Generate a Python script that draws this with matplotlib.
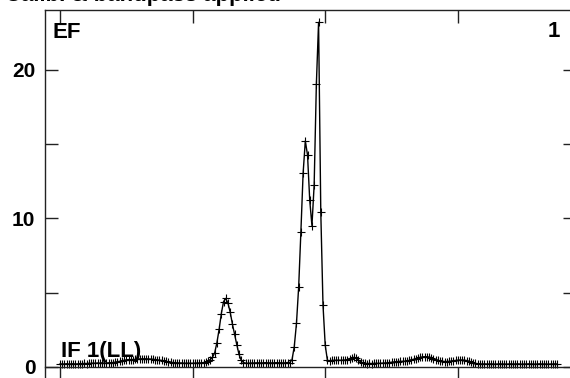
import matplotlib
matplotlib.use("Agg")
import matplotlib.pyplot as plt

plt.rcParams['font.family'] = ['Liberation Sans', 'DejaVu Sans']

# ---- data (values per channel) ----
amplitude = [
    # c0-19
    0.20, 0.21, 0.20, 0.22, 0.20, 0.21, 0.22, 0.20, 0.21, 0.23,
    0.22, 0.24, 0.23, 0.25, 0.24, 0.26, 0.25, 0.27, 0.26, 0.28,
    # c20-25
    0.26, 0.27, 0.28, 0.29, 0.30, 0.32,
    # c26-35
    0.35, 0.38, 0.42, 0.45, 0.48, 0.50, 0.50, 0.50, 0.51, 0.52,
    # c36-45
    0.54, 0.55, 0.55, 0.55, 0.54, 0.53, 0.52, 0.50, 0.48, 0.46,
    # c46-55
    0.44, 0.41, 0.38, 0.35, 0.32, 0.30, 0.29, 0.28, 0.27, 0.27,
    # c56-67
    0.26, 0.25, 0.26, 0.25, 0.25, 0.26, 0.27, 0.27, 0.28, 0.30, 0.34, 0.40,
    # c68-83 small line
    0.50, 0.65, 0.96, 1.64, 2.54, 3.60, 4.40, 4.62, 4.30, 3.70,
    2.90, 2.20, 1.50, 0.85, 0.45, 0.30,
    # c84-103
    0.26, 0.25, 0.26, 0.27, 0.27, 0.28, 0.28, 0.27, 0.28, 0.29,
    0.28, 0.28, 0.27, 0.28, 0.29, 0.28, 0.28, 0.27, 0.28, 0.30,
    # c104-121 main line
    0.30, 0.50, 1.37, 2.94, 5.41, 9.11, 13.04, 15.22, 14.28, 11.23,
    9.52, 12.26, 19.04, 23.21, 10.46, 4.18, 1.48, 0.45,
    # c122-137
    0.42, 0.44, 0.45, 0.45, 0.46, 0.45, 0.46, 0.47, 0.50, 0.56,
    0.62, 0.65, 0.60, 0.48, 0.35, 0.28,
    # c138-149
    0.24, 0.23, 0.24, 0.23, 0.24, 0.25, 0.24, 0.25, 0.26, 0.27, 0.28, 0.30,
    # c150-175
    0.32, 0.34, 0.36, 0.37, 0.38, 0.38, 0.39, 0.41, 0.44, 0.48,
    0.52, 0.57, 0.61, 0.65, 0.68, 0.69, 0.69, 0.67, 0.63, 0.57,
    0.50, 0.45, 0.41, 0.38, 0.37, 0.37,
    # c176-189
    0.38, 0.40, 0.42, 0.44, 0.46, 0.47, 0.47, 0.46, 0.43, 0.38,
    0.32, 0.27, 0.24, 0.22,
    # c190-225
    0.21, 0.20, 0.21, 0.20, 0.20, 0.21, 0.20, 0.19, 0.20, 0.21,
    0.20, 0.20, 0.19, 0.20, 0.21, 0.20, 0.20, 0.21, 0.20, 0.19,
    0.20, 0.20, 0.21, 0.20, 0.20, 0.19, 0.20, 0.21, 0.20, 0.20,
    0.20, 0.19, 0.20, 0.20, 0.21, 0.20,
]
channels = list(range(len(amplitude)))
xticks = [0, 60, 120, 180]
yticks = [0, 5, 10, 15, 20]
ytick_labels = ['0', '', '10', '', '20']
title_text = "Calib. & bandpass applied"
panel_label = "EF"
panel_number = "1"
if_label = "IF 1(LL)"

W, H = 570, 378
fig = plt.figure(figsize=(W / 100, H / 100), dpi=100)
left_px, right_px, top_px, bottom_px = 45, 570, 10, 378
ax = fig.add_axes([left_px / W, 1 - bottom_px / H,
                   (right_px - left_px) / W, (bottom_px - top_px) / H])

ax.plot(channels, amplitude, color='black', lw=1.0, marker='+',
        markersize=5.5, markeredgewidth=0.8, markeredgecolor='black',
        clip_on=True)

ax.set_xlim(-6.79, 230.77)
ax.set_ylim(-0.741, 24.04)

ax.spines['bottom'].set_position(('data', 0))
ax.spines['right'].set_visible(False)
for s in ax.spines.values():
    s.set_color('#222222')
    s.set_linewidth(1.0)

ax.set_xticks(xticks)
ax.set_xticklabels([])
ax.tick_params(axis='x', which='both', direction='out', length=7.8, width=1,
               color='#222222', top=False, bottom=True)
secx = ax.secondary_xaxis('top')
secx.set_xticks(xticks)
secx.set_xticklabels([])
secx.tick_params(direction='in', length=9, width=1, color='#222222')
secx.spines['top'].set_visible(False)

ax.set_yticks(yticks)
ax.set_yticklabels(ytick_labels, fontsize=15, fontweight='bold')
ax.tick_params(axis='y', which='both', direction='in', length=9, width=1,
               color='#222222', left=True, right=False, pad=7)
# right-hand inward ticks (the right frame edge lies just beyond the image)
secy = ax.secondary_yaxis('right')
secy.set_yticks(yticks)
secy.set_yticklabels([])
secy.tick_params(direction='in', length=5, width=1, color='#222222')
secy.spines['right'].set_visible(False)

fig.text(52 / W, 1 - 37.5 / H, panel_label, fontsize=16, fontweight='bold',
         va='baseline', ha='left')
fig.text(560 / W, 1 - 37 / H, panel_number, fontsize=16, fontweight='bold',
         va='baseline', ha='right')
fig.text(61 / W, 1 - 357 / H, if_label, fontsize=16, fontweight='bold',
         va='baseline', ha='left')
t = fig.text(5 / W, 1 - 1.5 / H, title_text, fontsize=16, fontweight='bold',
             va='baseline', ha='left')
t.set_clip_box(fig.bbox)
t.set_clip_on(True)

fig.savefig('out.png', dpi=100)
